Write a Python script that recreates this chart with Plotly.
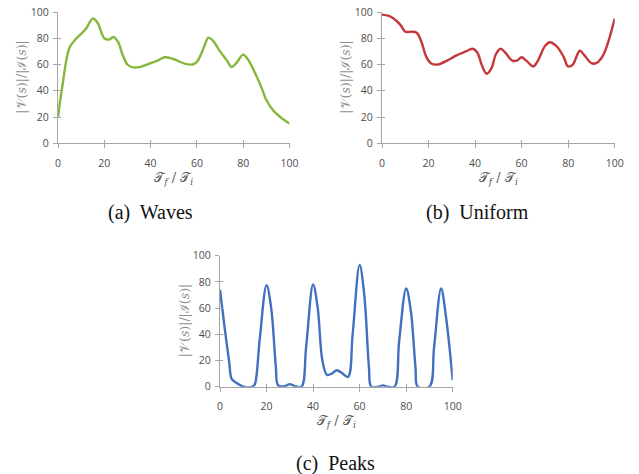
import plotly.graph_objects as go

# ---- data ----
waves_x = [0, 2, 5, 8, 12, 15, 17, 20, 22, 24, 26, 28, 30, 32, 35, 40, 43, 46, 50, 55, 58, 60, 63, 65, 67, 70, 73, 75, 77, 80, 82, 85, 88, 90, 93, 96, 100]
waves_y = [20, 45, 73, 80, 87, 95, 92, 80, 79, 81, 77, 67, 60, 58, 58, 61, 63, 65.5, 64, 60.5, 60, 62, 73, 80.5, 78, 70, 63, 58, 61, 67.5, 64, 54, 42, 33, 25, 20, 15]

uni_x = [0, 3, 5, 8, 10, 13, 15, 17, 19, 21, 24, 28, 32, 36, 39, 41, 43, 45, 47, 49, 51, 53, 56, 58, 60, 62, 65, 67, 70, 72, 75, 78, 80, 82, 85, 87, 90, 92, 95, 100]
uni_y = [98, 97, 95, 90, 85, 85, 84, 77, 66, 61, 60, 63, 67, 70, 72, 69, 59, 53, 57, 68, 72, 69, 63, 63, 65.5, 63, 58.5, 63, 74, 77, 74, 66, 58.5, 60, 70.5, 67, 61, 61, 67, 95]

peaks_x = [0, 2, 4, 5, 7, 10, 14, 15, 17, 20, 22, 24, 25, 28, 30, 32, 35, 37, 40, 42, 44, 46, 48, 50, 52, 55, 57, 60, 62, 64, 65, 68, 70, 72, 75, 77, 80, 82, 84, 85, 90, 92, 95, 97, 100]
peaks_y = [74, 45, 18, 6, 3, 0, 0, 2, 35, 77.5, 60, 15, 1, 0.5, 2, 0.5, 0, 30, 78, 60, 20, 9, 10, 12.5, 11, 7.5, 40, 93, 70, 15, 0, 0, 1, 0, 0, 35, 75, 58, 15, 0, 0, 30, 75, 55, 5]

tick_vals = [0, 20, 40, 60, 80, 100]
tick_text = ["0", "20", "40", "60", "80", "100"]
captions = ["(a)  Waves", "(b)  Uniform", "(c)  Peaks"]
colors = ["#86B63C", "#C4383A", "#4170BF"]

ytitle = "|𝒱(<i>s</i>)|/|ℐ(<i>s</i>)|"
xtitle = "𝒯<sub><i>f</i></sub> / 𝒯<sub><i>i</i></sub>"

W, H = 639, 474
# plot areas in window pixels: (left, right, top, bottom)
areas = [(58, 289.5, 12, 143.3), (382, 614.7, 12, 143.3), (220, 452.7, 255.7, 386.7)]

fig = go.Figure()
series = [(waves_x, waves_y), (uni_x, uni_y), (peaks_x, peaks_y)]

axis_col = "#A6A6A6"
tick_font = dict(family="Open Sans, sans-serif", size=10.5, color="#4D4D4D")

for i, ((xs, ys), col, (l, r, t, b)) in enumerate(zip(series, colors, areas)):
    n = i + 1
    xa = "x" if n == 1 else f"x{n}"
    ya = "y" if n == 1 else f"y{n}"
    fig.add_trace(go.Scatter(x=xs, y=ys, mode="lines", line=dict(color=col, width=2.4, shape="spline", smoothing=1.0),
                             xaxis=xa, yaxis=ya, showlegend=False, hoverinfo="skip"))
    # overlay trace for inner ticks
    m = n + 3
    fig.add_trace(go.Scatter(x=xs, y=ys, mode="lines", line=dict(width=0), opacity=0,
                             xaxis=f"x{m}", yaxis=f"y{m}", showlegend=False, hoverinfo="skip"))
    xd = [l / W, r / W]
    yd = [1 - b / H, 1 - t / H]
    fig.update_layout(**{
        ("xaxis" if n == 1 else f"xaxis{n}"): dict(
            domain=xd, anchor=ya, range=[0, 100], tickvals=tick_vals, ticktext=tick_text, automargin=False,
            showgrid=False, zeroline=False, showline=True, linecolor=axis_col, linewidth=1.3,
            ticks="outside", ticklen=4, tickcolor=axis_col, tickwidth=1.3, tickfont=tick_font,
            ticklabelstandoff=6,
            title=dict(text=xtitle, font=dict(family="DejaVu Serif, serif", size=13, color="#595959"), standoff=0)),
        ("yaxis" if n == 1 else f"yaxis{n}"): dict(
            domain=yd, anchor=xa, range=[0, 100], tickvals=tick_vals, ticktext=tick_text, automargin=False,
            showgrid=False, zeroline=False, showline=True, linecolor=axis_col, linewidth=1.3,
            ticks="outside", ticklen=4, tickcolor=axis_col, tickwidth=1.3, tickfont=tick_font,
            ticklabelstandoff=2),
        f"xaxis{m}": dict(domain=xd, anchor=f"y{m}", overlaying=xa, range=[0, 100], tickvals=tick_vals,
                          showticklabels=False, showgrid=False, zeroline=False, showline=False, automargin=False,
                          ticks="inside", ticklen=3, tickcolor=axis_col, tickwidth=1.3),
        f"yaxis{m}": dict(domain=yd, anchor=f"x{m}", overlaying=ya, range=[0, 100], tickvals=tick_vals,
                          showticklabels=False, showgrid=False, zeroline=False, showline=False, automargin=False,
                          ticks="inside", ticklen=3, tickcolor=axis_col, tickwidth=1.3),
    })
    # y-axis title as rotated annotation
    fig.add_annotation(text=ytitle, x=(l - 36) / W, y=1 - ((t + b) / 2) / H, xref="paper", yref="paper",
                       showarrow=False, textangle=-90, xanchor="center", yanchor="middle",
                       font=dict(family="DejaVu Serif, serif", size=12.5, color="#8C8C8C"))

cap_pos = [(150, 212), (477, 212), (335, 463)]
for txt, (cx, cy) in zip(captions, cap_pos):
    fig.add_annotation(text=txt, x=cx / W, y=1 - cy / H, xref="paper", yref="paper",
                       showarrow=False, xanchor="center", yanchor="middle",
                       font=dict(family="Liberation Serif, serif", size=20, color="#111111"))

fig.update_layout(width=W, height=H, margin=dict(l=0, r=0, t=0, b=0),
                  paper_bgcolor="white", plot_bgcolor="white")

fig.write_html("out.html", config={"displayModeBar": False},
               post_script="document.body.style.margin='0px';")
